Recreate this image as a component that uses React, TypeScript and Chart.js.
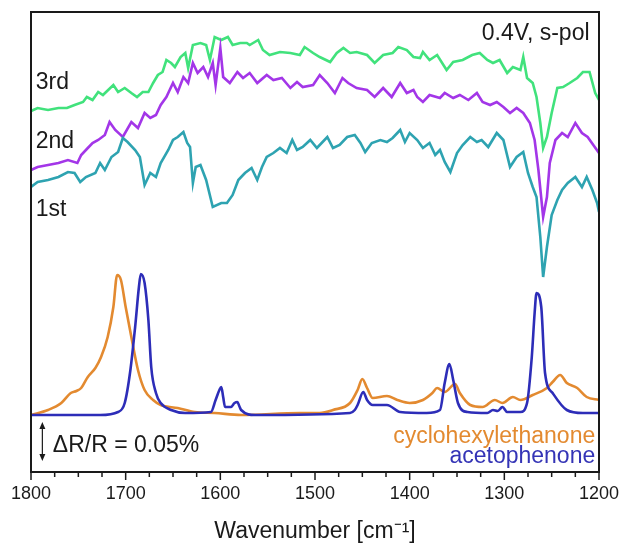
import React, { useEffect, useRef } from "react";
import { Chart, registerables } from "chart.js";
Chart.register(...registerables);

// ---------- data (wavenumber in cm^-1, signal in arbitrary offset units) ----------
const wn3rd = [1800,1793,1782,1771,1762,1754,1745,1741,1735,1729,1724,1713,1708,1701,1694,1688,1682,1676,1671,1666,1661,1657,1652,1648,1642,1637,1634,1629,1621,1615,1611,1606,1599,1592,1587,1579,1572,1569,1560,1555,1548,1537,1526,1516,1511,1502,1495,1484,1477,1470,1463,1456,1445,1437,1428,1418,1412,1403,1396,1389,1386,1379,1371,1361,1354,1344,1334,1326,1318,1312,1305,1297,1291,1283,1280,1276,1270,1266,1262,1259,1255,1250,1244,1238,1231,1223,1217,1210,1204,1200];
const val3rd = [361,364,362,364,364,367,370,375,372,380,377,387,380,384,379,375,380,380,389,397,400,412,409,405,415,419,404,427,429,427,412,435,432,435,427,429,429,427,432,422,417,420,419,417,425,419,415,410,419,424,419,420,417,409,417,419,425,422,415,414,420,412,417,402,410,412,417,419,412,409,412,399,405,402,415,394,389,375,349,324,335,359,384,385,389,394,400,400,379,372];

const wn2nd = [1800,1793,1782,1771,1761,1751,1747,1740,1735,1729,1722,1717,1711,1703,1694,1687,1680,1674,1668,1663,1657,1650,1645,1639,1634,1629,1624,1618,1613,1608,1605,1600,1597,1590,1582,1576,1569,1561,1551,1544,1535,1526,1519,1513,1502,1495,1487,1479,1471,1465,1456,1445,1437,1428,1419,1410,1403,1396,1392,1386,1379,1368,1363,1354,1347,1338,1329,1323,1315,1308,1301,1294,1287,1280,1273,1268,1264,1259,1255,1252,1246,1239,1233,1225,1218,1212,1206,1200];
const val2nd = [302,305,307,309,312,309,317,324,329,332,337,350,342,335,350,344,359,354,357,367,375,389,380,395,389,409,399,405,395,409,387,424,395,389,400,394,399,389,397,392,394,384,390,385,387,397,389,379,394,389,384,382,375,384,375,389,379,382,375,370,377,374,379,374,377,372,379,370,367,370,365,359,364,359,349,332,302,255,275,309,332,339,335,349,339,335,327,319];

const wn1st = [1800,1793,1782,1771,1761,1754,1748,1742,1732,1727,1722,1715,1708,1703,1698,1690,1685,1680,1674,1668,1663,1655,1650,1645,1639,1635,1632,1629,1626,1621,1615,1608,1599,1593,1587,1581,1574,1567,1561,1556,1551,1544,1537,1530,1524,1519,1513,1505,1498,1487,1481,1474,1466,1458,1452,1447,1440,1431,1424,1418,1410,1405,1400,1392,1386,1379,1373,1368,1363,1357,1350,1344,1336,1329,1324,1317,1308,1301,1294,1287,1280,1275,1270,1266,1262,1259,1255,1250,1244,1239,1233,1225,1218,1213,1207,1202,1200];
const val1st = [285,290,292,295,300,299,290,295,299,309,302,315,320,334,330,322,315,287,299,295,309,322,332,335,340,329,325,289,305,307,292,265,269,269,277,292,299,304,292,305,315,319,324,319,332,322,325,332,324,335,324,327,335,337,329,320,329,332,330,334,342,330,339,332,324,329,317,322,310,300,319,327,335,330,332,325,339,332,305,315,320,299,285,275,235,195,225,257,272,282,289,295,285,295,282,269,260];

const wnCyclo = [1800,1782,1768,1758,1752,1747,1740,1732,1726,1719,1713,1709,1705,1700,1694,1687,1680,1671,1663,1645,1627,1606,1578,1516,1495,1481,1463,1455,1450,1445,1439,1424,1413,1400,1386,1376,1371,1363,1352,1347,1336,1323,1310,1302,1291,1283,1270,1255,1249,1241,1234,1223,1213,1200];
const valCyclo = [57,62,69,79,81,84,95,104,115,135,165,197,192,165,135,102,82,72,67,64,60,59,57,59,59,62,69,82,93,84,74,76,72,69,72,79,84,80,88,79,67,65,72,69,75,72,77,84,90,97,89,84,75,72];

const wnAceto = [1800,1727,1708,1701,1695,1690,1686,1684,1680,1676,1673,1668,1663,1652,1637,1610,1605,1601,1599,1597,1595,1589,1585,1582,1580,1578,1563,1463,1458,1455,1449,1445,1439,1424,1410,1382,1368,1363,1358,1354,1349,1339,1318,1312,1307,1302,1297,1283,1276,1271,1268,1266,1261,1257,1249,1234,1217,1200];
const valAceto = [57,57,60,69,102,145,185,198,189,152,105,79,69,62,59,60,72,82,85,75,65,65,69,70,66,62,57,59,62,67,80,72,67,67,60,59,62,89,108,92,69,60,59,62,61,65,60,60,69,115,159,179,165,99,79,62,59,59];

const seriesNames = ["3rd", "2nd", "1st", "cyclohexylethanone", "acetophenone"];
const xTickStep = 100;
const xMinorStep = 25;
const xRange = [1200, 1800];
const scaleBarLabel = "\u0394R/R = 0.05%";
const conditionLabel = "0.4V, s-pol";

const FONT = "'Liberation Sans', Arial, Helvetica, sans-serif";
const COLORS = {
  g3: "#41e27c",
  p2: "#a336e8",
  t1: "#2ea3b1",
  orange: "#e38a30",
  blue: "#2d2db8",
};

const toXY = (xs: number[], ys: number[]) => xs.map((x, i) => ({ x, y: ys[i] }));

export default function App() {
  const ref = useRef<HTMLCanvasElement>(null);

  useEffect(() => {
    const annot = {
      id: "annot",
      afterDraw(chart: any) {
        const { ctx, chartArea: a, scales } = chart;
        const x = scales.x;
        const y = scales.y;
        ctx.save();
        // tick marks (major + minor), outside
        ctx.strokeStyle = "#1a1a1a";
        ctx.lineWidth = 1.5;
        for (let v = xRange[0]; v <= xRange[1]; v += xMinorStep) {
          const px = x.getPixelForValue(v);
          const len = v % xTickStep === 0 ? 8 : 5;
          ctx.beginPath();
          ctx.moveTo(px, a.bottom);
          ctx.lineTo(px, a.bottom + len);
          ctx.stroke();
        }
        // frame
        ctx.lineWidth = 2;
        ctx.strokeRect(a.left, a.top, a.right - a.left, a.bottom - a.top);

        // labels
        ctx.font = `23px ${FONT}`;
        ctx.textBaseline = "alphabetic";
        ctx.fillStyle = "#1a1a1a";
        ctx.textAlign = "left";
        ctx.fillText(seriesNames[0], x.getPixelForValue(1795), y.getPixelForValue(383));
        ctx.fillText(seriesNames[1], x.getPixelForValue(1795), y.getPixelForValue(324));
        ctx.fillText(seriesNames[2], x.getPixelForValue(1795), y.getPixelForValue(256));
        ctx.textAlign = "right";
        ctx.fillText(conditionLabel, x.getPixelForValue(1210), y.getPixelForValue(432));
        ctx.fillStyle = COLORS.orange;
        ctx.fillText(seriesNames[3], x.getPixelForValue(1204), y.getPixelForValue(29));
        ctx.fillStyle = "#3434b6";
        ctx.fillText(seriesNames[4], x.getPixelForValue(1204), y.getPixelForValue(9));

        // scale bar
        ctx.fillStyle = "#1a1a1a";
        ctx.textAlign = "left";
        ctx.fillText(scaleBarLabel, x.getPixelForValue(1777), y.getPixelForValue(20));
        const ax = x.getPixelForValue(1788);
        const y1 = y.getPixelForValue(50);
        const y2 = y.getPixelForValue(11);
        ctx.strokeStyle = "#1a1a1a";
        ctx.lineWidth = 1.2;
        ctx.beginPath();
        ctx.moveTo(ax, y1 + 4);
        ctx.lineTo(ax, y2 - 4);
        ctx.stroke();
        ctx.beginPath();
        ctx.moveTo(ax, y1);
        ctx.lineTo(ax - 3, y1 + 7);
        ctx.lineTo(ax + 3, y1 + 7);
        ctx.closePath();
        ctx.fill();
        ctx.beginPath();
        ctx.moveTo(ax, y2);
        ctx.lineTo(ax - 3, y2 - 7);
        ctx.lineTo(ax + 3, y2 - 7);
        ctx.closePath();
        ctx.fill();
        ctx.restore();
      },
    };

    const noisy = { borderWidth: 2.6, tension: 0, pointRadius: 0, fill: false };
    const smooth = { borderWidth: 2.6, tension: 0.4, cubicInterpolationMode: "monotone" as const, pointRadius: 0, fill: false };

    const chart = new Chart(ref.current as HTMLCanvasElement, {
      type: "line",
      data: {
        datasets: [
          { label: seriesNames[4], data: toXY(wnAceto, valAceto), borderColor: COLORS.blue, ...smooth },
          { label: seriesNames[3], data: toXY(wnCyclo, valCyclo), borderColor: COLORS.orange, ...smooth },
          { label: seriesNames[2], data: toXY(wn1st, val1st), borderColor: COLORS.t1, ...noisy },
          { label: seriesNames[1], data: toXY(wn2nd, val2nd), borderColor: COLORS.p2, ...noisy },
          { label: seriesNames[0], data: toXY(wn3rd, val3rd), borderColor: COLORS.g3, ...noisy },
        ],
      },
      options: {
        animation: false,
        responsive: false,
        maintainAspectRatio: false,
        layout: { padding: { left: 31, right: 22, top: 12, bottom: 0 } },
        plugins: { legend: { display: false }, tooltip: { enabled: false } },
        scales: {
          x: {
            type: "linear",
            min: xRange[0],
            max: xRange[1],
            reverse: true,
            grid: { display: false, drawTicks: false },
            border: { display: false },
            ticks: {
              stepSize: xTickStep,
              padding: 0,
              maxRotation: 0,
              autoSkip: false,
              color: "#1a1a1a",
              font: { family: FONT, size: 18, lineHeight: 2.5 },
              callback: (v: any) => String(v),
            },
            title: {
              display: true,
              text: "Wavenumber [cm\u207B\u00B9]",
              color: "#1a1a1a",
              font: { family: FONT, size: 23 },
              padding: { top: 0, bottom: 0 },
            },
            afterFit: (s: any) => {
              s.height = 73;
            },
          },
          y: { display: false, min: 0, max: 460 },
        },
      },
      plugins: [annot],
    });
    return () => chart.destroy();
  }, []);

  return (
    <div style={{ position: "fixed", left: 0, top: 0, width: 621, height: 545, background: "#fff" }}>
      <canvas ref={ref} width={621} height={545} style={{ display: "block", width: 621, height: 545 }} />
    </div>
  );
}
